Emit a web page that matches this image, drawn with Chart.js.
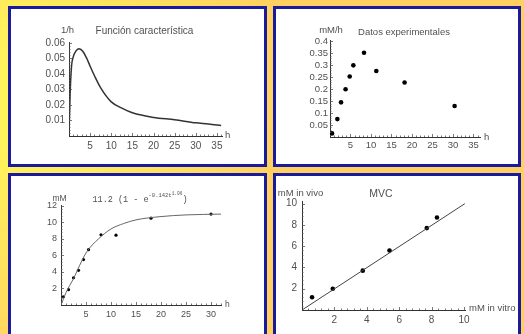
<!DOCTYPE html>
<html>
<head>
<meta charset="utf-8">
<script src="https://cdn.jsdelivr.net/npm/chart.js@4.4.1/dist/chart.umd.min.js"></script>
<style>
  html, body { margin: 0; padding: 0; }
  body {
    width: 524px; height: 334px; overflow: hidden; position: relative;
    background: radial-gradient(circle at 0 100px, #fff55a 0, #fff05c 70px, #ffd060 290px);
  }
  .panel { position: absolute; background: #fff; border: 3px solid #1a1a9c; overflow: hidden; }
  .panel canvas { display: block; }
</style>
</head>
<body>
<div class="panel" style="left:8px;top:6px;width:253px;height:155px"><canvas id="c1" width="253" height="155"></canvas></div>
<div class="panel" style="left:273px;top:6px;width:242px;height:155px"><canvas id="c2" width="242" height="155"></canvas></div>
<div class="panel" style="left:8px;top:173px;width:253px;height:160px"><canvas id="c3" width="253" height="160"></canvas></div>
<div class="panel" style="left:273px;top:173px;width:242px;height:160px"><canvas id="c4" width="242" height="160"></canvas></div>

<script>
// ---- data ----

// Función característica (1/h against h)
const charHours = [0, 0.25, 0.6, 1.0, 1.7, 2.4, 3.3, 4.2, 5, 6, 7.5, 10, 12.5, 15, 20, 25, 30, 33, 36];
const charRate = [0, 0.026, 0.045, 0.051, 0.055, 0.0563, 0.0545, 0.05, 0.045, 0.039, 0.031, 0.022, 0.018, 0.015, 0.012, 0.0105, 0.0085, 0.0078, 0.0068];
const charXTicks = [5, 10, 15, 20, 25, 30, 35];
const charYTicks = [0.01, 0.02, 0.03, 0.04, 0.05, 0.06];
const charYLabels = ['0.01', '0.02', '0.03', '0.04', '0.05', '0.06'];

// Datos experimentales (mM/h against h)
const expHours = [0.5, 1.8, 2.7, 3.8, 4.8, 5.7, 8.3, 11.3, 18.2, 30.4];
const expRate = [0.015, 0.075, 0.145, 0.2, 0.253, 0.3, 0.353, 0.276, 0.228, 0.13];
const expXTicks = [5, 10, 15, 20, 25, 30, 35];
const expYTicks = [0.05, 0.1, 0.15, 0.2, 0.25, 0.3, 0.35, 0.4];
const expYLabels = ['0.05', '0.1', '0.15', '0.2', '0.25', '0.3', '0.35', '0.4'];

// accumulated mM against h, with fitted curve
const accHours = [0.5, 1.5, 2.5, 3.5, 4.5, 5.5, 8, 11, 18, 30];
const accConc = [1.0, 1.85, 3.3, 4.2, 5.5, 6.7, 8.5, 8.45, 10.5, 11.0];
const fitHours = [0, 1, 2.5, 5, 7.5, 10, 12.5, 15, 20, 25, 32];
const fitConc = [0, 1.5, 3.2, 6.3, 8.0, 9.2, 9.85, 10.3, 10.7, 10.9, 11.0];
const accXTicks = [5, 10, 15, 20, 25, 30];
const accYTicks = [2, 4, 6, 8, 10, 12];

// MVC: mM in vivo against mM in vitro
const inVitro = [0.62, 1.9, 3.75, 5.4, 7.7, 8.33];
const inVivo = [1.2, 2.0, 3.7, 5.6, 7.7, 8.7];
const mvcLineX = [0, 10.05];
const mvcLineY = [0, 10];
const mvcXTicks = [2, 4, 6, 8, 10];
const mvcYTicks = [2, 4, 6, 8, 10];

// ---- drawing ----

const FONT = "'Liberation Sans', Arial, sans-serif";
const TXT = '#505050';

const pts = (xs, ys) => xs.map((x, i) => ({ x: x, y: ys[i] }));

// axis end labels, inside title and inward ticks (Mathematica look)
const axisDecor = {
  id: 'axisDecor',
  afterDraw(chart, args, o) {
    const ctx = chart.ctx, a = chart.chartArea;
    const sx = chart.scales.x, sy = chart.scales.y;
    ctx.save();
    ctx.strokeStyle = '#555';
    ctx.lineWidth = 0.8;
    const ticks = (scale, horiz) => {
      const major = scale.ticks[1].value - scale.ticks[0].value;
      const step = major / 5;
      for (let k = 1; k * step <= scale.max + 1e-9; k++) {
        const len = k % 5 === 0 ? 3 : 1.5;
        const p = Math.round(scale.getPixelForValue(k * step)) + 0.5;
        ctx.beginPath();
        if (horiz) { ctx.moveTo(p, a.bottom); ctx.lineTo(p, a.bottom - len); }
        else { ctx.moveTo(a.left, p); ctx.lineTo(a.left + len, p); }
        ctx.stroke();
      }
    };
    ticks(sx, true);
    ticks(sy, false);

    ctx.fillStyle = TXT;
    ctx.textBaseline = 'middle';
    ctx.font = o.labelSize + 'px ' + FONT;
    ctx.textAlign = 'center';
    ctx.fillText(o.yLabel, a.left + o.yPos[0], a.top + o.yPos[1]);
    ctx.textAlign = 'left';
    ctx.fillText(o.xLabel, a.right + o.xPos[0], a.bottom + o.xPos[1]);

    // title, maybe in pieces with raised parts
    const parts = o.title;
    let total = 0;
    parts.forEach(p => { ctx.font = p.size + 'px ' + (p.font || FONT); total += ctx.measureText(p.text).width; });
    let x = (a.left + a.right) / 2 + o.tPos[0] - total / 2;
    const y = a.top + o.tPos[1];
    ctx.textAlign = 'left';
    parts.forEach(p => {
      ctx.font = p.size + 'px ' + (p.font || FONT);
      ctx.fillText(p.text, x, y - (p.rise || 0));
      x += ctx.measureText(p.text).width;
    });
    ctx.restore();
  }
};

function makeChart(id, c) {
  const fnt = { family: FONT, size: c.tickSize };
  new Chart(document.getElementById(id), {
    type: 'scatter',
    data: { datasets: c.datasets },
    options: {
      responsive: false,
      animation: false,
      devicePixelRatio: 1,
      layout: { padding: c.pad },
      plugins: {
        legend: { display: false },
        tooltip: { enabled: false },
        axisDecor: c.decor
      },
      scales: {
        x: {
          type: 'linear', min: 0, max: c.xMax,
          afterFit: s => { s.height = 18; },
          afterBuildTicks: s => { s.ticks = c.xTicks.map(v => ({ value: v })); },
          ticks: { callback: (v, i) => c.xLabels[i], color: TXT, font: fnt, padding: c.xPadTick, maxRotation: 0, autoSkip: false },
          grid: { display: false, drawTicks: false },
          border: { display: true, color: '#333', width: 1 }
        },
        y: {
          type: 'linear', min: 0, max: c.yMax,
          afterFit: s => { s.width = c.yW; },
          afterBuildTicks: s => { s.ticks = c.yTicks.map(v => ({ value: v })); },
          ticks: { callback: (v, i) => c.yLabels[i], color: TXT, font: fnt, padding: c.yPadTick, autoSkip: false },
          grid: { display: false, drawTicks: false },
          border: { display: true, color: '#333', width: 1 }
        }
      }
    },
    plugins: [axisDecor]
  });
}

makeChart('c1', {
  datasets: [{
    data: pts(charHours, charRate), showLine: true, pointRadius: 0,
    borderColor: '#333', borderWidth: 1.5, cubicInterpolationMode: 'monotone'
  }],
  xMax: 36.2, yMax: 0.0606,
  xTicks: charXTicks, xLabels: charXTicks.map(String),
  yTicks: charYTicks, yLabels: charYLabels,
  yW: 40, pad: { left: 18, right: 42, top: 33, bottom: 10 },
  tickSize: 10, xPadTick: 4, yPadTick: 4,
  decor: {
    labelSize: 9.5, yLabel: '1/h', yPos: [-1.5, -12], xLabel: 'h', xPos: [3, -1],
    tPos: [-1, -11], title: [{ text: 'Función característica', size: 10 }]
  }
});

makeChart('c2', {
  datasets: [{
    data: pts(expHours, expRate), pointRadius: 2.3,
    pointBackgroundColor: '#000', pointBorderColor: '#000', pointBorderWidth: 0
  }],
  xMax: 36.6, yMax: 0.404,
  xTicks: expXTicks, xLabels: expXTicks.map(String),
  yTicks: expYTicks, yLabels: expYLabels,
  yW: 40, pad: { left: 14, right: 38, top: 31.5, bottom: 9 },
  tickSize: 9.5, xPadTick: 3, yPadTick: 2,
  decor: {
    labelSize: 9.5, yLabel: 'mM/h', yPos: [1, -10], xLabel: 'h', xPos: [4, 0],
    tPos: [-1, -8], title: [{ text: 'Datos experimentales', size: 9.5 }]
  }
});

makeChart('c3', {
  datasets: [{
    data: pts(fitHours, fitConc), showLine: true, pointRadius: 0,
    borderColor: '#666', borderWidth: 1, cubicInterpolationMode: 'monotone'
  }, {
    data: pts(accHours, accConc), pointRadius: 1.6,
    pointBackgroundColor: '#000', pointBorderColor: '#000', pointBorderWidth: 0
  }],
  xMax: 32, yMax: 12.1,
  xTicks: accXTicks, xLabels: accXTicks.map(String),
  yTicks: accYTicks, yLabels: accYTicks.map(String),
  yW: 36, pad: { left: 14, right: 43, top: 29, bottom: 13 },
  tickSize: 9, xPadTick: 4, yPadTick: 4,
  decor: {
    labelSize: 8.5, yLabel: 'mM', yPos: [-1.5, -6.5], xLabel: 'h', xPos: [4, 0],
    tPos: [-1, -5.5],
    title: [
      { text: '11.2 (1 - e', size: 8.5, font: "'Liberation Mono', monospace" },
      { text: '-0.142t', size: 5.5, rise: 3.5, font: "'Liberation Mono', monospace" },
      { text: '1.06', size: 4.5, rise: 5.5, font: "'Liberation Mono', monospace" },
      { text: ')', size: 8.5, font: "'Liberation Mono', monospace" }
    ]
  }
});

makeChart('c4', {
  datasets: [{
    data: pts(mvcLineX, mvcLineY), showLine: true, pointRadius: 0,
    borderColor: '#444', borderWidth: 1
  }, {
    data: pts(inVitro, inVivo), pointRadius: 2.3,
    pointBackgroundColor: '#000', pointBorderColor: '#000', pointBorderWidth: 0
  }],
  xMax: 10.06, yMax: 10.25,
  xTicks: mvcXTicks, xLabels: mvcXTicks.map(String),
  yTicks: mvcYTicks, yLabels: mvcYTicks.map(String),
  yW: 22, pad: { left: 4, right: 53, top: 25, bottom: 8 },
  tickSize: 10, xPadTick: 4, yPadTick: 5,
  decor: {
    labelSize: 9.5, yLabel: 'mM in vivo', yPos: [-1.5, -8], xLabel: 'mM in vitro', xPos: [4, -1.5],
    tPos: [-2.5, -6.5], title: [{ text: 'MVC', size: 10.5 }]
  }
});
</script>
</body>
</html>
